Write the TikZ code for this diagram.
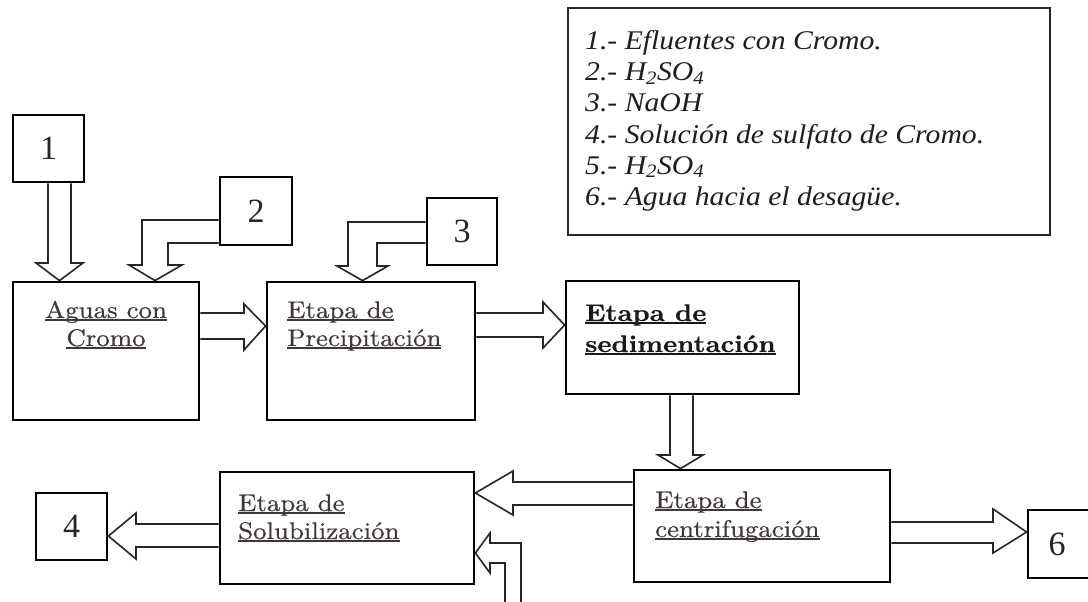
\documentclass[tikz,border=0pt]{standalone}
\usepackage{fontspec}
\newfontfamily\boxfont{lmroman10-regular.otf}[FakeStretch=1.12,FakeBold=0.5,BoldFont=lmroman10-bold.otf,BoldFeatures={FakeStretch=1.12}]
\newfontfamily\legfont{Liberation Serif}[FakeStretch=1.1]
\newfontfamily\numfont{Liberation Serif}
\definecolor{txt}{RGB}{62,57,54}
\definecolor{legtxt}{RGB}{30,30,30}
\newcommand\ulin[1]{\setbox0\hbox{#1}\rlap{\rule[-2.5pt]{\wd0}{1.3pt}}\box0}
\tikzset{
  x=1pt, y=-1pt,
  stagebox/.style={draw=black, line width=2.8pt, inner sep=0pt},
  numbox/.style={draw=black, line width=2.8pt, inner sep=0pt, minimum width=71pt, minimum height=67pt,
     font=\numfont\fontsize{34}{36}\selectfont, text=black!85},
  lbl/.style={anchor=base west, inner sep=0pt, text=txt, font=\boxfont\fontsize{24}{28}\selectfont},
  clbl/.style={lbl, anchor=base},
  blbl/.style={lbl, text=black!90, font=\boxfont\bfseries\fontsize{24}{28}\selectfont},
  legline/.style={anchor=base west, inner sep=0pt, text=legtxt, font=\legfont\itshape\fontsize{27}{31}\selectfont},
  blk/.style={draw=black!85, line width=1.6pt, line join=miter},
}
\begin{document}
\begin{tikzpicture}
\useasboundingbox (0,0) rectangle (1088,602);
\clip (0,0) rectangle (1088,602);
\fill[white] (0,0) rectangle (1088,602);

% number boxes
\node[numbox] (b1) at (48.5,148.5) {1};
\node[numbox, minimum width=72pt, minimum height=68pt] (b2) at (256,211) {2};
\node[numbox, minimum width=70pt] (b3) at (462,231.5) {3};
\node[numbox] (b4) at (71.5,526.5) {4};
\node[numbox, minimum width=70pt, minimum height=68pt] (b6) at (1063,544) {};
\node[inner sep=0pt, font=\numfont\fontsize{34}{36}\selectfont, text=black!85] (n6) at (1057,544) {6};

% stage boxes
\node[stagebox, minimum width=186pt, minimum height=138pt] (aguas) at (106,351) {};
\node[stagebox, minimum width=208pt, minimum height=138pt] (precip) at (371,351) {};
\node[stagebox, minimum width=233pt, minimum height=113pt] (sed) at (682.5,337.5) {};
\node[stagebox, minimum width=256pt, minimum height=112pt] (centrif) at (762,526) {};
\node[stagebox, minimum width=254pt, minimum height=112pt] (solub) at (347,528) {};

% labels
\node[clbl] (aguas1) at (106,318) {\ulin{Aguas con}};
\node[clbl] (aguas2) at (106,346) {\ulin{Cromo}};
\node[lbl] (precip1) at (287,318) {\ulin{Etapa de}};
\node[lbl] (precip2) at (287,346) {\ulin{Precipitación}};
\node[blbl] (sed1) at (585,321) {\ulin{Etapa de}};
\node[blbl] (sed2) at (585,352) {\ulin{sedimentación}};
\node[lbl] (cen1) at (655,508) {\ulin{Etapa de}};
\node[lbl] (cen2) at (655,537) {\ulin{centrifugación}};
\node[lbl] (sol1) at (238,511) {\ulin{Etapa de}};
\node[lbl] (sol2) at (238,539) {\ulin{Solubilización}};

% legend
\node[draw=black!85, line width=2pt, minimum width=482pt, minimum height=227pt, inner sep=0pt] (legend) at (809,121.5) {};
\node[legline] (l1) at (585,50) {1.- Efluentes con Cromo.};
\node[legline] (l2) at (585,81) {2.- H\textsubscript{2}SO\textsubscript{4}};
\node[legline] (l3) at (585,112) {3.- NaOH};
\node[legline] (l4) at (585,143) {4.- Solución de sulfato de Cromo.};
\node[legline] (l5) at (585,174) {5.- H\textsubscript{2}SO\textsubscript{4}};
\node[legline] (l6) at (585,205) {6.- Agua hacia el desagüe.};

% block arrows
\draw[blk] (b1.south -| 48,0) -- (48,263) -- (36,263) -- (aguas.north -| 59.5,0) -- (83,263) -- (71,263) -- (b1.south -| 71,0);
\draw[blk] (b2.west |- 0,243) -- (168,243) -- (168,265) -- (182,265) -- (aguas.north -| 155,0) -- (129,265) -- (142,265) -- (142,220) -- (b2.west |- 0,220);
\draw[blk] (b3.west |- 0,243) -- (377,243) -- (377,266) -- (388,266) -- (precip.north -| 362.5,0) -- (337,266) -- (348,266) -- (348,222) -- (b3.west |- 0,222);
\draw[blk] (aguas.east |- 0,313) -- (244,313) -- (244,304) -- (precip.west |- 0,326) -- (244,350) -- (244,339) -- (aguas.east |- 0,339);
\draw[blk] (precip.east |- 0,313) -- (543,313) -- (543,302) -- (sed.west |- 0,325) -- (543,348) -- (543,337) -- (precip.east |- 0,337);
\draw[blk] (sed.south -| 670,0) -- (670,455) -- (658,455) -- (centrif.north -| 680.5,0) -- (703,455) -- (693,455) -- (sed.south -| 693,0);
\draw[blk] (centrif.west |- 0,482) -- (513,482) -- (513,471) -- (solub.east |- 0,493) -- (513,515) -- (513,505) -- (centrif.west |- 0,505);
\draw[blk] (solub.west |- 0,524) -- (136,524) -- (136,513) -- (b4.east |- 0,536) -- (136,559) -- (136,547) -- (solub.west |- 0,547);
\draw[blk] (centrif.east |- 0,522) -- (993,522) -- (993,509) -- (b6.west |- 0,532) -- (993,553) -- (993,543) -- (centrif.east |- 0,543);
\coordinate (in5) at (513,606);
\draw[blk] (in5 -| 521,0) -- (521,543) -- (490,543) -- (490,533) -- (solub.east |- 0,553) -- (490,573) -- (490,563) -- (505,563) -- (in5 -| 505,0);
\end{tikzpicture}
\end{document}
